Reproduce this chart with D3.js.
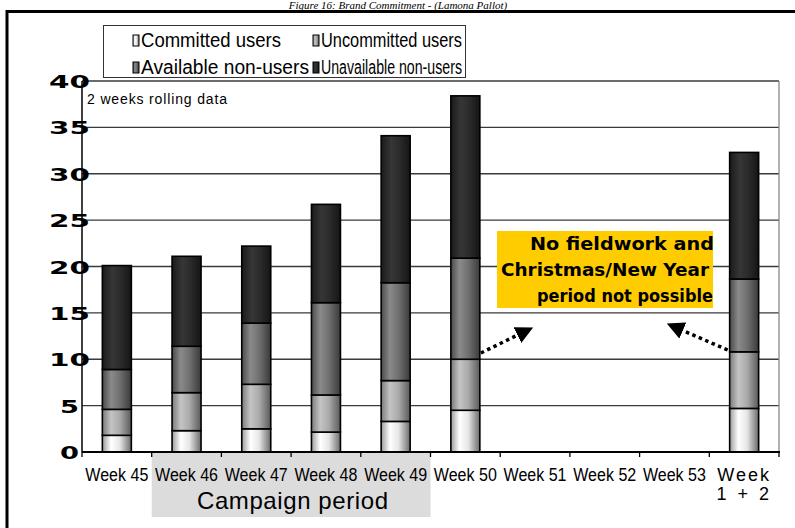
<!DOCTYPE html>
<html><head><meta charset="utf-8">
<script src="https://cdn.jsdelivr.net/npm/d3@7"></script>
<style>
html,body{margin:0;padding:0;background:#fff;overflow:hidden}
svg{display:block}
</style></head>
<body>
<script>
const categories = ["Week 45","Week 46","Week 47","Week 48","Week 49","Week 50","Week 51","Week 52","Week 53","Week 1+2"];
const seriesNames = ["Committed users","Uncommitted users","Available non-users","Unavailable non-users"];
const committed   = [1.8, 2.3, 2.5, 2.15, 3.3, 4.5, null, null, null, 4.7];
const uncommitted = [2.8, 4.1, 4.8, 4.0, 4.4, 5.5, null, null, null, 6.1];
const availableNon   = [4.3, 5.0, 6.6, 9.95, 10.55, 10.9, null, null, null, 7.85];
const unavailableNon = [11.2, 9.7, 8.3, 10.6, 15.85, 17.5, null, null, null, 13.65];
const yTicks = [0,5,10,15,20,25,30,35,40];
const titleText = "Figure 16: Brand Commitment - (Lamona Pallot)";
const noteText = "2 weeks rolling data";
const boxLines = ["No fieldwork and","Christmas/New Year","period not possible"];
const periodLabel = "Campaign period";
const periodCats = ["Week 46","Week 49"];

const W = 795, H = 528;
const svg = d3.select("body").append("svg").attr("width", W).attr("height", H);
const defs = svg.append("defs");

function grad(id, stops){
  const g = defs.append("linearGradient").attr("id", id).attr("x1","0%").attr("x2","100%").attr("y1","0%").attr("y2","0%");
  stops.forEach(s => g.append("stop").attr("offset", s[0]).attr("stop-color", s[1]));
}
grad("g0", [["0%","#9a9a9a"],["30%","#ffffff"],["60%","#e6e6e6"],["100%","#6a6a6a"]]);
grad("g1", [["0%","#7a7a7a"],["30%","#c4c4c4"],["60%","#aaaaaa"],["100%","#5a5a5a"]]);
grad("g2", [["0%","#4a4a4a"],["30%","#8a8a8a"],["60%","#707070"],["100%","#3a3a3a"]]);
grad("g3", [["0%","#1a1a1a"],["35%","#363636"],["65%","#2a2a2a"],["100%","#151515"]]);
const fills = ["url(#g0)","url(#g1)","url(#g2)","url(#g3)"];

// title
svg.append("text").attr("x", 398).attr("y", 9).attr("text-anchor","middle")
  .attr("font-family","Liberation Serif").attr("font-style","italic").attr("font-size",11)
  .text(titleText);

// outer frame
svg.append("path").attr("d","M7,530 L7,11.5 L800,11.5").attr("fill","none").attr("stroke","#000").attr("stroke-width",3);

const x = d3.scaleBand().domain(categories).range([82, 779]).paddingInner(0.584).paddingOuter(0.292);
const y = d3.scaleLinear().domain([0, 40]).range([452, 81]);

// campaign period box
const px0 = x(periodCats[0]) - x.step()*x.paddingInner()/2;
const px1 = x(periodCats[1]) + x.bandwidth() + x.step()*x.paddingInner()/2;
svg.append("rect").attr("x", px0).attr("y", 453).attr("width", px1-px0).attr("height", 64).attr("fill","#dcdcdc");
svg.append("text").attr("x", 197).attr("y", 509).attr("font-family","Liberation Sans").attr("font-size",24)
  .attr("textLength",191).attr("lengthAdjust","spacing").text(periodLabel);

// gridlines
svg.append("g").selectAll("line").data(yTicks.filter(d=>d>0)).join("line")
  .attr("x1", 82).attr("x2", 779).attr("y1", d=>y(d)).attr("y2", d=>y(d))
  .attr("stroke", "#3a3a3a").attr("stroke-width", 1.3);
svg.append("line").attr("x1",779).attr("x2",779).attr("y1",y(40)).attr("y2",y(0)).attr("stroke","#888").attr("stroke-width",1.3);

// note text
svg.append("text").attr("x", 87).attr("y", 104).attr("font-family","Liberation Sans").attr("font-size",14)
  .attr("textLength",140).attr("lengthAdjust","spacing").text(noteText);

// bars
const rows = categories.map((c,i)=>({cat:c, s0:committed[i]||0, s1:uncommitted[i]||0, s2:availableNon[i]||0, s3:unavailableNon[i]||0, has: committed[i]!=null}));
const stack = d3.stack().keys(["s0","s1","s2","s3"])(rows);
stack.forEach((layer, li) => {
  svg.append("g").selectAll("rect").data(layer.filter(d=>d.data.has)).join("rect")
    .attr("x", d=>x(d.data.cat)).attr("width", x.bandwidth())
    .attr("y", d=>y(d[1])).attr("height", d=>y(d[0])-y(d[1]))
    .attr("fill", fills[li]).attr("stroke","#000").attr("stroke-width",1.6);
});

// yellow annotation box
svg.append("rect").attr("x",497).attr("y",231).attr("width",216).attr("height",77).attr("fill","#ffcc00");
const boxPos = [[530,250,184],[501,276,208],[537,302,176]];
boxLines.forEach((t,i)=>{
  svg.append("text").attr("x",boxPos[i][0]).attr("y",boxPos[i][1]).attr("font-family","DejaVu Sans")
    .attr("font-weight","bold").attr("font-size",17).attr("textLength",boxPos[i][2]).attr("lengthAdjust","spacingAndGlyphs").text(t);
});

// arrows
defs.append("marker").attr("id","ah").attr("viewBox","0 0 10 10").attr("refX",8).attr("refY",5)
  .attr("markerWidth",5).attr("markerHeight",5).attr("markerUnits","strokeWidth").attr("orient","auto")
  .append("path").attr("d","M0,0 L10,5 L0,10 Z").attr("fill","#000");
const a1x = x("Week 50") + x.bandwidth();
svg.append("line").attr("x1",a1x+1).attr("y1",353).attr("x2",530).attr("y2",329)
  .attr("stroke","#000").attr("stroke-width",3.5).attr("stroke-dasharray","3.5,3.5").attr("marker-end","url(#ah)");
const a2x = x("Week 1+2");
svg.append("line").attr("x1",a2x-2).attr("y1",350).attr("x2",670).attr("y2",325)
  .attr("stroke","#000").attr("stroke-width",3.5).attr("stroke-dasharray","3.5,3.5").attr("marker-end","url(#ah)");

// axes
svg.append("line").attr("x1",82).attr("x2",82).attr("y1",y(40)).attr("y2",y(0)).attr("stroke","#000").attr("stroke-width",1.5);
svg.append("line").attr("x1",82).attr("x2",780).attr("y1",y(0)).attr("y2",y(0)).attr("stroke","#000").attr("stroke-width",2);
const bounds = categories.map(c=>x(c)-x.step()*x.paddingInner()/2).concat([779]);
svg.append("g").selectAll("line").data(bounds).join("line")
  .attr("x1",d=>d).attr("x2",d=>d).attr("y1",y(0)).attr("y2",y(0)+5).attr("stroke","#000").attr("stroke-width",1.3);

// y tick labels
svg.append("g").selectAll("text").data(yTicks).join("text")
  .attr("x", 69.5).attr("y", d=>y(d)+7).attr("text-anchor","middle")
  .attr("font-family","DejaVu Sans").attr("font-weight","bold").attr("font-size",18)
  .attr("textLength", d=>String(d).length>1?41:19).attr("lengthAdjust","spacingAndGlyphs")
  .text(d=>d);

// x labels
categories.forEach((c,i)=>{
  const cx = x(c)+x.bandwidth()/2;
  if (c === "Week 1+2") {
    const t = svg.append("text").attr("font-family","Liberation Sans").attr("font-size",18).attr("text-anchor","middle");
    t.append("tspan").attr("x",cx).attr("y",481).attr("letter-spacing",2).text("Week");
    t.append("tspan").attr("x",cx).attr("y",500).attr("letter-spacing",3).text("1 + 2");
  } else {
    svg.append("text").attr("x", cx).attr("y",481).attr("text-anchor","middle")
      .attr("font-family","Liberation Sans").attr("font-size",17.5)
      .attr("textLength",63).attr("lengthAdjust","spacingAndGlyphs").text(c);
  }
});

// legend
const lg = svg.append("g");
defs.append("clipPath").attr("id","lclip").append("rect").attr("x",103).attr("y",25).attr("width",362).attr("height",53);
lg.append("rect").attr("x",103.5).attr("y",25.5).attr("width",362).attr("height",52).attr("fill","#fff").attr("stroke","#333").attr("stroke-width",1);
const lgItems = [
  {name: seriesNames[0], sx:133, base:47, tx:141, len:140},
  {name: seriesNames[1], sx:313, base:47, tx:321, len:141},
  {name: seriesNames[2], sx:133, base:74, tx:141, len:168},
  {name: seriesNames[3], sx:313, base:74, tx:321, len:141}
];
const lgc = lg.append("g").attr("clip-path","url(#lclip)");
lgItems.forEach((d,i)=>{
  lgc.append("rect").attr("x",d.sx).attr("y",d.base-12).attr("width",6).attr("height",11)
    .attr("fill",fills[i]).attr("stroke","#000").attr("stroke-width",1);
  lgc.append("text").attr("x",d.tx).attr("y",d.base).attr("font-family","Liberation Sans").attr("font-size",20)
    .attr("textLength",d.len).attr("lengthAdjust","spacingAndGlyphs").text(d.name);
});
</script>
</body></html>
